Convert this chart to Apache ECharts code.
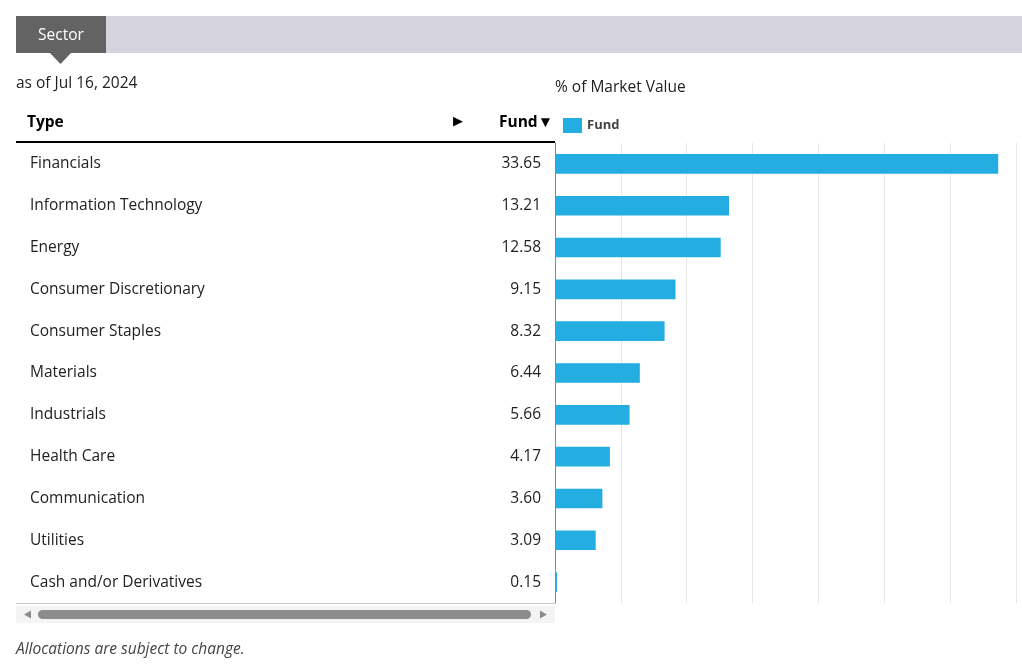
<!DOCTYPE html>
<html><head><meta charset="utf-8">
<script src="https://cdn.jsdelivr.net/npm/echarts@6/dist/echarts.min.js"></script>
<style>html,body{margin:0;padding:0;background:#fff}#c{width:1022px;height:672px}</style>
</head><body><div id="c"></div>
<script>
const categories = ["Financials","Information Technology","Energy","Consumer Discretionary","Consumer Staples","Materials","Industrials","Health Care","Communication","Utilities","Cash and/or Derivatives"];
const fundValues = [33.65,13.21,12.58,9.15,8.32,6.44,5.66,4.17,3.60,3.09,0.15];
const xTicks = {min:0, max:35, interval:5};

const FONT = '"Open Sans", "Noto Sans", sans-serif';
const FS = 15.5;
const chart = echarts.init(document.getElementById('c'));
chart.setOption({
  animation:false,
  textStyle:{fontFamily:FONT},
  title:{text:'% of Market Value', left:550, top:75, textStyle:{fontSize:FS, fontWeight:'normal', color:'#222', fontFamily:FONT}},
  legend:{left:558, top:113, itemWidth:19, itemHeight:15, icon:'rect', itemGap:4,
    textStyle:{fontSize:13, fontWeight:'bold', color:'#444', fontFamily:FONT, padding:[2,0,0,0]}, data:['Fund']},
  grid:{left:555, right:6, top:143, bottom:69, containLabel:false},
  xAxis:{type:'value', min:xTicks.min, max:xTicks.max, interval:xTicks.interval,
    axisLabel:{show:false}, axisLine:{show:false}, axisTick:{show:false},
    splitLine:{show:true, lineStyle:{color:'#e6e6e6', width:1}}},
  yAxis:[
    {type:'category', data:categories, inverse:true,
     axisLine:{show:true, lineStyle:{color:'#8a8a8a', width:1}}, axisTick:{show:false},
     axisLabel:{align:'left', margin:525, fontSize:FS, color:'#222', fontFamily:FONT, padding:[2,0,0,0]}},
    {type:'category', data:fundValues.map(v=>v.toFixed(2)), inverse:true, position:'left',
     axisLine:{show:false}, axisTick:{show:false},
     axisLabel:{margin:14, fontSize:FS, color:'#222', fontFamily:FONT, padding:[2,0,0,0]}}
  ],
  series:[{name:'Fund', type:'bar', data:fundValues, yAxisIndex:0, barWidth:'47%',
    itemStyle:{color:'#23ade1'}}],
  graphic:[
    {type:'rect', shape:{x:16,y:16,width:1006,height:37}, style:{fill:'#d5d4de'}},
    {type:'rect', shape:{x:16,y:16,width:90,height:37}, style:{fill:'#636363'}},
    {type:'polygon', shape:{points:[[50,53],[71,53],[60.5,64]]}, style:{fill:'#636363'}},
    {type:'text', x:61, y:36, style:{text:'Sector', fill:'#fff', fontSize:FS, fontFamily:FONT, align:'center', verticalAlign:'middle'}},
    {type:'text', x:16, y:84, style:{text:'as of Jul 16, 2024', fill:'#222', fontSize:FS, fontFamily:FONT, verticalAlign:'middle'}},
    {type:'text', x:27, y:123, style:{text:'Type', fill:'#000', fontSize:FS, fontWeight:'bold', fontFamily:FONT, verticalAlign:'middle'}},
    {type:'text', x:458, y:122, style:{text:'▶', fill:'#000', fontSize:13, fontFamily:'DejaVu Sans', align:'center', verticalAlign:'middle'}},
    {type:'text', x:553, y:123, style:{text:'Fund▼', fill:'#000', fontSize:FS, fontWeight:'bold', fontFamily:FONT, align:'right', verticalAlign:'middle'}},
    {type:'rect', shape:{x:16,y:141,width:539,height:2}, style:{fill:'#000'}},
    {type:'rect', shape:{x:16,y:603,width:539,height:1}, style:{fill:'#c8c8c8'}},
    {type:'rect', shape:{x:16,y:606,width:539,height:17}, style:{fill:'#f4f4f4'}},
    {type:'rect', shape:{x:38,y:610,width:493,height:9, r:4.5}, style:{fill:'#8c8c8c'}},
    {type:'polygon', shape:{points:[[24,614.5],[31,610.5],[31,618.5]]}, style:{fill:'#8c8c8c'}},
    {type:'polygon', shape:{points:[[547,614.5],[540,610.5],[540,618.5]]}, style:{fill:'#8c8c8c'}},
    {type:'text', x:16, y:650, style:{text:'Allocations are subject to change.', fill:'#444', fontSize:FS, fontStyle:'italic', fontFamily:FONT, verticalAlign:'middle'}}
  ]
});
</script></body></html>
